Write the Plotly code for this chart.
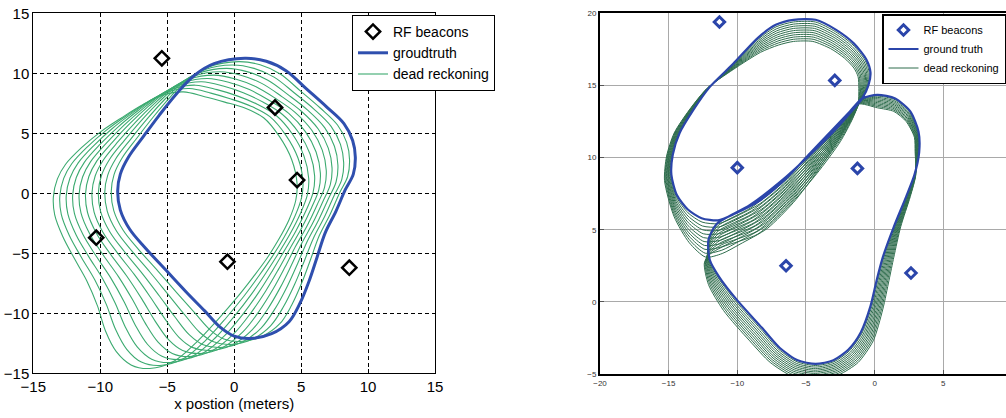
import plotly.graph_objects as go

# ---------------- LEFT PANEL DATA ----------------
left_beacon_x = [-5.4, 3.05, 4.7, -10.3, -0.5, 8.6]
left_beacon_y = [11.25, 7.15, 1.1, -3.7, -5.7, -6.2]

gt_left_x = [0.8, 2.4, 3.9, 5.4, 6.9, 8.2, 8.85, 9.05, 8.9, 8.3, 7.6, 6.8, 6.2, 5.6, 4.9, 4.1, 2.8, 1.2,
             0.0, -1.0, -2.2, -3.6, -5.1, -6.6, -7.8, -8.5, -8.7, -8.5, -7.9, -6.8, -5.6, -4.3, -3.0, -1.5, 0.8]
gt_left_y = [11.25, 11.0, 10.2, 8.7, 7.2, 5.8, 4.4, 3.0, 1.6, 0.3, -1.5, -3.3, -5.3, -7.3, -9.2, -10.7, -11.7, -12.1,
             -11.9, -11.2, -9.8, -8.2, -6.4, -4.6, -3.0, -1.4, 0.2, 1.6, 3.0, 4.7, 6.5, 8.3, 9.8, 10.8, 11.25]

# dead-reckoning laps: one row per path station, one column per lap
dr_left_x = [
    [0.34, -0.12, -0.58, -1.04, -1.5, -1.96, -2.42, -2.88, -3.34, -3.8],
    [1.94, 1.48, 1.02, 0.56, 0.1, -0.36, -0.82, -1.28, -1.74, -2.2],
    [3.44, 2.98, 2.52, 2.06, 1.6, 1.14, 0.68, 0.22, -0.24, -0.7],
    [4.94, 4.48, 4.02, 3.56, 3.1, 2.64, 2.18, 1.72, 1.26, 0.8],
    [6.43, 5.96, 5.49, 5.02, 4.55, 4.08, 3.61, 3.14, 2.67, 2.2],
    [7.72, 7.24, 6.76, 6.28, 5.8, 5.32, 4.84, 4.36, 3.88, 3.4],
    [8.4, 7.94, 7.49, 7.03, 6.58, 6.12, 5.67, 5.21, 4.76, 4.3],
    [8.62, 8.18, 7.75, 7.31, 6.88, 6.44, 6.01, 5.57, 5.14, 4.7],
    [8.47, 8.04, 7.61, 7.18, 6.75, 6.32, 5.89, 5.46, 5.03, 4.6],
    [7.88, 7.46, 7.04, 6.62, 6.2, 5.78, 5.36, 4.94, 4.52, 4.1],
    [7.17, 6.74, 6.31, 5.88, 5.45, 5.02, 4.59, 4.16, 3.73, 3.3],
    [6.36, 5.92, 5.48, 5.04, 4.6, 4.16, 3.72, 3.28, 2.84, 2.4],
    [5.72, 5.24, 4.76, 4.28, 3.8, 3.32, 2.84, 2.36, 1.88, 1.4],
    [5.06, 4.52, 3.98, 3.44, 2.9, 2.36, 1.82, 1.28, 0.74, 0.2],
    [4.29, 3.68, 3.07, 2.46, 1.85, 1.24, 0.63, 0.02, -0.59, -1.2],
    [3.41, 2.72, 2.03, 1.34, 0.65, -0.04, -0.73, -1.42, -2.11, -2.8],
    [2.07, 1.34, 0.61, -0.12, -0.85, -1.58, -2.31, -3.04, -3.77, -4.5],
    [0.45, -0.3, -1.05, -1.8, -2.55, -3.3, -4.05, -4.8, -5.55, -6.3],
    [-0.77, -1.54, -2.31, -3.08, -3.85, -4.62, -5.39, -6.16, -6.93, -7.7],
    [-1.78, -2.56, -3.34, -4.12, -4.9, -5.68, -6.46, -7.24, -8.02, -8.8],
    [-2.94, -3.68, -4.42, -5.16, -5.9, -6.64, -7.38, -8.12, -8.86, -9.6],
    [-4.26, -4.92, -5.58, -6.24, -6.9, -7.56, -8.22, -8.88, -9.54, -10.2],
    [-5.69, -6.28, -6.87, -7.46, -8.05, -8.64, -9.23, -9.82, -10.41, -11.0],
    [-7.13, -7.66, -8.19, -8.72, -9.25, -9.78, -10.31, -10.84, -11.37, -11.9],
    [-8.3, -8.8, -9.3, -9.8, -10.3, -10.8, -11.3, -11.8, -12.3, -12.8],
    [-8.99, -9.48, -9.97, -10.46, -10.95, -11.44, -11.93, -12.42, -12.91, -13.4],
    [-9.18, -9.66, -10.14, -10.62, -11.1, -11.58, -12.06, -12.54, -13.02, -13.5],
    [-8.97, -9.44, -9.91, -10.38, -10.85, -11.32, -11.79, -12.26, -12.73, -13.2],
    [-8.37, -8.84, -9.31, -9.78, -10.25, -10.72, -11.19, -11.66, -12.13, -12.6],
    [-7.26, -7.72, -8.18, -8.64, -9.1, -9.56, -10.02, -10.48, -10.94, -11.4],
    [-6.04, -6.48, -6.92, -7.36, -7.8, -8.24, -8.68, -9.12, -9.56, -10.0],
    [-4.71, -5.12, -5.53, -5.94, -6.35, -6.76, -7.17, -7.58, -7.99, -8.4],
    [-3.38, -3.76, -4.14, -4.52, -4.9, -5.28, -5.66, -6.04, -6.42, -6.8],
    [-1.88, -2.26, -2.64, -3.02, -3.4, -3.78, -4.16, -4.54, -4.92, -5.3],
]
dr_left_y = [
    [10.97, 10.69, 10.41, 10.13, 9.85, 9.57, 9.29, 9.01, 8.73, 8.45],
    [10.71, 10.41, 10.12, 9.82, 9.53, 9.23, 8.94, 8.64, 8.35, 8.05],
    [9.94, 9.68, 9.42, 9.16, 8.9, 8.64, 8.38, 8.12, 7.86, 7.6],
    [8.54, 8.38, 8.22, 8.06, 7.9, 7.74, 7.58, 7.42, 7.26, 7.1],
    [7.11, 7.02, 6.93, 6.84, 6.75, 6.66, 6.57, 6.48, 6.39, 6.3],
    [5.69, 5.58, 5.47, 5.36, 5.25, 5.14, 5.03, 4.92, 4.81, 4.7],
    [4.24, 4.08, 3.92, 3.76, 3.6, 3.44, 3.28, 3.12, 2.96, 2.8],
    [2.78, 2.56, 2.34, 2.12, 1.9, 1.68, 1.46, 1.24, 1.02, 0.8],
    [1.38, 1.16, 0.94, 0.72, 0.5, 0.28, 0.06, -0.16, -0.38, -0.6],
    [0.05, -0.2, -0.45, -0.7, -0.95, -1.2, -1.45, -1.7, -1.95, -2.2],
    [-1.74, -1.98, -2.22, -2.46, -2.7, -2.94, -3.18, -3.42, -3.66, -3.9],
    [-3.52, -3.74, -3.96, -4.18, -4.4, -4.62, -4.84, -5.06, -5.28, -5.5],
    [-5.47, -5.64, -5.81, -5.98, -6.15, -6.32, -6.49, -6.66, -6.83, -7.0],
    [-7.44, -7.58, -7.72, -7.86, -8.0, -8.14, -8.28, -8.42, -8.56, -8.7],
    [-9.33, -9.46, -9.59, -9.72, -9.85, -9.98, -10.11, -10.24, -10.37, -10.5],
    [-10.87, -11.04, -11.21, -11.38, -11.55, -11.72, -11.89, -12.06, -12.23, -12.4],
    [-11.93, -12.16, -12.39, -12.62, -12.85, -13.08, -13.31, -13.54, -13.77, -14.0],
    [-12.35, -12.6, -12.85, -13.1, -13.35, -13.6, -13.85, -14.1, -14.35, -14.6],
    [-12.14, -12.38, -12.62, -12.86, -13.1, -13.34, -13.58, -13.82, -14.06, -14.3],
    [-11.4, -11.6, -11.8, -12.0, -12.2, -12.4, -12.6, -12.8, -13.0, -13.2],
    [-9.97, -10.14, -10.31, -10.48, -10.65, -10.82, -10.99, -11.16, -11.33, -11.5],
    [-8.32, -8.44, -8.56, -8.68, -8.8, -8.92, -9.04, -9.16, -9.28, -9.4],
    [-6.49, -6.58, -6.67, -6.76, -6.85, -6.94, -7.03, -7.12, -7.21, -7.3],
    [-4.69, -4.78, -4.87, -4.96, -5.05, -5.14, -5.23, -5.32, -5.41, -5.5],
    [-3.06, -3.12, -3.18, -3.24, -3.3, -3.36, -3.42, -3.48, -3.54, -3.6],
    [-1.44, -1.48, -1.52, -1.56, -1.6, -1.64, -1.68, -1.72, -1.76, -1.8],
    [0.15, 0.1, 0.05, 0.0, -0.05, -0.1, -0.15, -0.2, -0.25, -0.3],
    [1.56, 1.52, 1.48, 1.44, 1.4, 1.36, 1.32, 1.28, 1.24, 1.2],
    [2.94, 2.88, 2.82, 2.76, 2.7, 2.64, 2.58, 2.52, 2.46, 2.4],
    [4.61, 4.52, 4.43, 4.34, 4.25, 4.16, 4.07, 3.98, 3.89, 3.8],
    [6.36, 6.22, 6.08, 5.94, 5.8, 5.66, 5.52, 5.38, 5.24, 5.1],
    [8.1, 7.9, 7.7, 7.5, 7.3, 7.1, 6.9, 6.7, 6.5, 6.3],
    [9.56, 9.32, 9.08, 8.84, 8.6, 8.36, 8.12, 7.88, 7.64, 7.4],
    [10.54, 10.28, 10.02, 9.76, 9.5, 9.24, 8.98, 8.72, 8.46, 8.2],
]

# ---------------- RIGHT PANEL DATA ----------------
right_beacon_x = [-11.3, -2.9, -10.0, -1.25, -6.45, 2.65]
right_beacon_y = [19.4, 15.35, 9.3, 9.25, 2.5, 2.0]

gt_right_x = [-0.9, -0.45, -0.3, -0.6, -1.5, -2.8, -4.3, -5.9, -7.2, -8.5, -10.3, -12.0, -13.2, -14.2, -14.7,
              -14.8, -14.4, -13.6, -12.6, -11.4, -10.2, -8.4, -6.5, -4.7, -3.0, -1.8, -0.9, 0.2, 1.5, 2.6, 3.2,
              3.25, 2.9, 2.3, 1.4, 0.6, 0.15, -0.3, -1.0, -1.9, -3.0, -4.3, -5.6, -6.9, -8.2, -10.0, -11.3,
              -12.0, -12.1, -11.5, -9.1, -6.9, -4.7, -2.8, -1.6, -0.9]
gt_right_y = [14.1, 15.0, 15.9, 16.8, 17.9, 18.85, 19.55, 19.55, 19.2, 18.3, 16.5, 14.9, 13.3, 11.7, 10.2,
              8.8, 7.4, 6.4, 5.8, 5.65, 6.1, 7.0, 8.5, 10.3, 12.0, 13.2, 14.1, 14.35, 14.1, 13.2, 11.8,
              10.4, 8.8, 7.3, 5.2, 3.1, 1.5, -0.3, -2.1, -3.3, -4.05, -4.3, -4.05, -3.2, -1.8, 0.1, 1.7,
              2.9, 4.3, 5.4, 6.7, 8.3, 10.2, 12.0, 13.3, 14.1]

dr_right_x = [
    [-0.93, -0.96, -0.99, -1.02, -1.05, -1.08, -1.11, -1.14, -1.17, -1.2],
    [-0.52, -0.59, -0.66, -0.73, -0.8, -0.87, -0.94, -1.01, -1.08, -1.15],
    [-0.39, -0.48, -0.57, -0.66, -0.75, -0.84, -0.93, -1.02, -1.11, -1.2],
    [-0.69, -0.78, -0.87, -0.96, -1.05, -1.14, -1.23, -1.32, -1.41, -1.5],
    [-1.57, -1.64, -1.71, -1.78, -1.85, -1.92, -1.99, -2.06, -2.13, -2.2],
    [-2.84, -2.88, -2.92, -2.96, -3.0, -3.04, -3.08, -3.12, -3.16, -3.2],
    [-4.32, -4.34, -4.36, -4.38, -4.4, -4.42, -4.44, -4.46, -4.48, -4.5],
    [-5.9, -5.9, -5.9, -5.9, -5.9, -5.9, -5.9, -5.9, -5.9, -5.9],
    [-7.18, -7.16, -7.14, -7.12, -7.1, -7.08, -7.06, -7.04, -7.02, -7.0],
    [-8.48, -8.46, -8.44, -8.42, -8.4, -8.38, -8.36, -8.34, -8.32, -8.3],
    [-10.3, -10.3, -10.3, -10.3, -10.3, -10.3, -10.3, -10.3, -10.3, -10.3],
    [-12.02, -12.04, -12.06, -12.08, -12.1, -12.12, -12.14, -12.16, -12.18, -12.2],
    [-13.23, -13.26, -13.29, -13.32, -13.35, -13.38, -13.41, -13.44, -13.47, -13.5],
    [-14.24, -14.28, -14.32, -14.36, -14.4, -14.44, -14.48, -14.52, -14.56, -14.6],
    [-14.75, -14.79, -14.84, -14.88, -14.93, -14.97, -15.02, -15.06, -15.11, -15.15],
    [-14.85, -14.9, -14.95, -15.0, -15.05, -15.1, -15.15, -15.2, -15.25, -15.3],
    [-14.42, -14.44, -14.46, -14.48, -14.5, -14.52, -14.54, -14.56, -14.58, -14.6],
    [-13.59, -13.58, -13.57, -13.56, -13.55, -13.54, -13.53, -13.52, -13.51, -13.5],
    [-12.57, -12.54, -12.51, -12.48, -12.45, -12.42, -12.39, -12.36, -12.33, -12.3],
    [-11.37, -11.34, -11.31, -11.28, -11.25, -11.22, -11.19, -11.16, -11.13, -11.1],
    [-10.16, -10.12, -10.08, -10.04, -10.0, -9.96, -9.92, -9.88, -9.84, -9.8],
    [-8.34, -8.28, -8.22, -8.16, -8.1, -8.04, -7.98, -7.92, -7.86, -7.8],
    [-6.44, -6.38, -6.32, -6.26, -6.2, -6.14, -6.08, -6.02, -5.96, -5.9],
    [-4.65, -4.6, -4.55, -4.5, -4.45, -4.4, -4.35, -4.3, -4.25, -4.2],
    [-2.97, -2.94, -2.91, -2.88, -2.85, -2.82, -2.79, -2.76, -2.73, -2.7],
    [-1.8, -1.8, -1.8, -1.8, -1.8, -1.8, -1.8, -1.8, -1.8, -1.8],
    [-0.93, -0.96, -0.99, -1.02, -1.05, -1.08, -1.11, -1.14, -1.17, -1.2],
    [0.2, 0.2, 0.2, 0.2, 0.2, 0.2, 0.2, 0.2, 0.2, 0.2],
    [1.49, 1.48, 1.47, 1.46, 1.45, 1.44, 1.43, 1.42, 1.41, 1.4],
    [2.57, 2.54, 2.51, 2.48, 2.45, 2.42, 2.39, 2.36, 2.33, 2.3],
    [3.17, 3.14, 3.11, 3.08, 3.05, 3.02, 2.99, 2.96, 2.93, 2.9],
    [3.22, 3.19, 3.16, 3.13, 3.1, 3.07, 3.04, 3.01, 2.98, 2.95],
    [2.91, 2.92, 2.93, 2.94, 2.95, 2.96, 2.97, 2.98, 2.99, 3.0],
    [2.33, 2.36, 2.39, 2.42, 2.45, 2.48, 2.51, 2.54, 2.57, 2.6],
    [1.45, 1.5, 1.55, 1.6, 1.65, 1.7, 1.75, 1.8, 1.85, 1.9],
    [0.68, 0.76, 0.84, 0.92, 1.0, 1.08, 1.16, 1.24, 1.32, 1.4],
    [0.24, 0.33, 0.42, 0.51, 0.6, 0.69, 0.78, 0.87, 0.96, 1.05],
    [-0.21, -0.12, -0.03, 0.06, 0.15, 0.24, 0.33, 0.42, 0.51, 0.6],
    [-0.91, -0.82, -0.73, -0.64, -0.55, -0.46, -0.37, -0.28, -0.19, -0.1],
    [-1.83, -1.76, -1.69, -1.62, -1.55, -1.48, -1.41, -1.34, -1.27, -1.2],
    [-2.96, -2.92, -2.88, -2.84, -2.8, -2.76, -2.72, -2.68, -2.64, -2.6],
    [-4.3, -4.3, -4.3, -4.3, -4.3, -4.3, -4.3, -4.3, -4.3, -4.3],
    [-5.64, -5.68, -5.72, -5.76, -5.8, -5.84, -5.88, -5.92, -5.96, -6.0],
    [-6.97, -7.04, -7.11, -7.18, -7.25, -7.32, -7.39, -7.46, -7.53, -7.6],
    [-8.29, -8.38, -8.47, -8.56, -8.65, -8.74, -8.83, -8.92, -9.01, -9.1],
    [-10.1, -10.2, -10.3, -10.4, -10.5, -10.6, -10.7, -10.8, -10.9, -11.0],
    [-11.38, -11.46, -11.54, -11.62, -11.7, -11.78, -11.86, -11.94, -12.02, -12.1],
    [-12.04, -12.08, -12.12, -12.16, -12.2, -12.24, -12.28, -12.32, -12.36, -12.4],
    [-12.09, -12.08, -12.07, -12.06, -12.05, -12.04, -12.03, -12.02, -12.01, -12.0],
    [-11.46, -11.42, -11.38, -11.34, -11.3, -11.26, -11.22, -11.18, -11.14, -11.1],
    [-9.04, -8.98, -8.92, -8.86, -8.8, -8.74, -8.68, -8.62, -8.56, -8.5],
    [-6.84, -6.78, -6.72, -6.66, -6.6, -6.54, -6.48, -6.42, -6.36, -6.3],
    [-4.65, -4.6, -4.55, -4.5, -4.45, -4.4, -4.35, -4.3, -4.25, -4.2],
    [-2.77, -2.74, -2.71, -2.68, -2.65, -2.62, -2.59, -2.56, -2.53, -2.5],
    [-1.6, -1.6, -1.6, -1.6, -1.6, -1.6, -1.6, -1.6, -1.6, -1.6],
    [-0.93, -0.96, -0.99, -1.02, -1.05, -1.08, -1.11, -1.14, -1.17, -1.2],
]
dr_right_y = [
    [14.06, 14.02, 13.98, 13.94, 13.9, 13.86, 13.82, 13.78, 13.74, 13.7],
    [14.98, 14.96, 14.94, 14.92, 14.9, 14.88, 14.86, 14.84, 14.82, 14.8],
    [15.87, 15.84, 15.81, 15.78, 15.75, 15.72, 15.69, 15.66, 15.63, 15.6],
    [16.74, 16.68, 16.62, 16.56, 16.5, 16.44, 16.38, 16.32, 16.26, 16.2],
    [17.8, 17.7, 17.6, 17.5, 17.4, 17.3, 17.2, 17.1, 17.0, 16.9],
    [18.72, 18.59, 18.46, 18.33, 18.2, 18.07, 17.94, 17.81, 17.68, 17.55],
    [19.4, 19.25, 19.1, 18.95, 18.8, 18.65, 18.5, 18.35, 18.2, 18.05],
    [19.4, 19.25, 19.1, 18.95, 18.8, 18.65, 18.5, 18.35, 18.2, 18.05],
    [19.06, 18.92, 18.78, 18.64, 18.5, 18.36, 18.22, 18.08, 17.94, 17.8],
    [18.2, 18.1, 18.0, 17.9, 17.8, 17.7, 17.6, 17.5, 17.4, 17.3],
    [16.46, 16.42, 16.38, 16.34, 16.3, 16.26, 16.22, 16.18, 16.14, 16.1],
    [14.89, 14.88, 14.87, 14.86, 14.85, 14.84, 14.83, 14.82, 14.81, 14.8],
    [13.3, 13.3, 13.3, 13.3, 13.3, 13.3, 13.3, 13.3, 13.3, 13.3],
    [11.7, 11.7, 11.7, 11.7, 11.7, 11.7, 11.7, 11.7, 11.7, 11.7],
    [10.19, 10.18, 10.17, 10.16, 10.15, 10.14, 10.13, 10.12, 10.11, 10.1],
    [8.76, 8.72, 8.68, 8.64, 8.6, 8.56, 8.52, 8.48, 8.44, 8.4],
    [7.25, 7.1, 6.95, 6.8, 6.65, 6.5, 6.35, 6.2, 6.05, 5.9],
    [6.17, 5.94, 5.71, 5.48, 5.25, 5.02, 4.79, 4.56, 4.33, 4.1],
    [5.53, 5.26, 4.99, 4.72, 4.45, 4.18, 3.91, 3.64, 3.37, 3.1],
    [5.42, 5.19, 4.96, 4.73, 4.5, 4.27, 4.04, 3.81, 3.58, 3.35],
    [5.89, 5.68, 5.47, 5.26, 5.05, 4.84, 4.63, 4.42, 4.21, 4.0],
    [6.81, 6.62, 6.43, 6.24, 6.05, 5.86, 5.67, 5.48, 5.29, 5.1],
    [8.34, 8.18, 8.02, 7.86, 7.7, 7.54, 7.38, 7.22, 7.06, 6.9],
    [10.17, 10.04, 9.91, 9.78, 9.65, 9.52, 9.39, 9.26, 9.13, 9.0],
    [11.91, 11.82, 11.73, 11.64, 11.55, 11.46, 11.37, 11.28, 11.19, 11.1],
    [13.14, 13.08, 13.02, 12.96, 12.9, 12.84, 12.78, 12.72, 12.66, 12.6],
    [14.06, 14.02, 13.98, 13.94, 13.9, 13.86, 13.82, 13.78, 13.74, 13.7],
    [14.26, 14.17, 14.08, 13.99, 13.9, 13.81, 13.72, 13.63, 13.54, 13.45],
    [14.01, 13.92, 13.83, 13.74, 13.65, 13.56, 13.47, 13.38, 13.29, 13.2],
    [13.13, 13.06, 12.99, 12.92, 12.85, 12.78, 12.71, 12.64, 12.57, 12.5],
    [11.76, 11.72, 11.68, 11.64, 11.6, 11.56, 11.52, 11.48, 11.44, 11.4],
    [10.4, 10.4, 10.4, 10.4, 10.4, 10.4, 10.4, 10.4, 10.4, 10.4],
    [8.8, 8.8, 8.8, 8.8, 8.8, 8.8, 8.8, 8.8, 8.8, 8.8],
    [7.3, 7.3, 7.3, 7.3, 7.3, 7.3, 7.3, 7.3, 7.3, 7.3],
    [5.2, 5.2, 5.2, 5.2, 5.2, 5.2, 5.2, 5.2, 5.2, 5.2],
    [3.1, 3.1, 3.1, 3.1, 3.1, 3.1, 3.1, 3.1, 3.1, 3.1],
    [1.5, 1.5, 1.5, 1.5, 1.5, 1.5, 1.5, 1.5, 1.5, 1.5],
    [-0.32, -0.34, -0.36, -0.38, -0.4, -0.42, -0.44, -0.46, -0.48, -0.5],
    [-2.16, -2.22, -2.28, -2.34, -2.4, -2.46, -2.52, -2.58, -2.64, -2.7],
    [-3.39, -3.48, -3.57, -3.66, -3.75, -3.84, -3.93, -4.02, -4.11, -4.2],
    [-4.15, -4.25, -4.35, -4.45, -4.55, -4.65, -4.75, -4.85, -4.95, -5.05],
    [-4.41, -4.52, -4.63, -4.74, -4.85, -4.96, -5.07, -5.18, -5.29, -5.4],
    [-4.16, -4.27, -4.38, -4.49, -4.6, -4.71, -4.82, -4.93, -5.04, -5.15],
    [-3.3, -3.4, -3.5, -3.6, -3.7, -3.8, -3.9, -4.0, -4.1, -4.2],
    [-1.89, -1.98, -2.07, -2.16, -2.25, -2.34, -2.43, -2.52, -2.61, -2.7],
    [0.03, -0.04, -0.11, -0.18, -0.25, -0.32, -0.39, -0.46, -0.53, -0.6],
    [1.65, 1.6, 1.55, 1.5, 1.45, 1.4, 1.35, 1.3, 1.25, 1.2],
    [2.88, 2.86, 2.84, 2.82, 2.8, 2.78, 2.76, 2.74, 2.72, 2.7],
    [4.2, 4.1, 4.0, 3.9, 3.8, 3.7, 3.6, 3.5, 3.4, 3.3],
    [5.24, 5.08, 4.92, 4.76, 4.6, 4.44, 4.28, 4.12, 3.96, 3.8],
    [6.5, 6.3, 6.1, 5.9, 5.7, 5.5, 5.3, 5.1, 4.9, 4.7],
    [8.13, 7.96, 7.79, 7.62, 7.45, 7.28, 7.11, 6.94, 6.77, 6.6],
    [10.07, 9.94, 9.81, 9.68, 9.55, 9.42, 9.29, 9.16, 9.03, 8.9],
    [11.91, 11.82, 11.73, 11.64, 11.55, 11.46, 11.37, 11.28, 11.19, 11.1],
    [13.24, 13.18, 13.12, 13.06, 13.0, 12.94, 12.88, 12.82, 12.76, 12.7],
    [14.06, 14.02, 13.98, 13.94, 13.9, 13.86, 13.82, 13.78, 13.74, 13.7],
]

tick_vals_left = [-15, -10, -5, 0, 5, 10, 15]
tick_vals_right_x = [-20, -15, -10, -5, 0, 5, 10]
tick_vals_right_y = [-5, 0, 5, 10, 15, 20]

# ---------------- STYLE ----------------
FONT = "Liberation Sans, Arial, sans-serif"
GREEN_L = "rgb(60,170,112)"
BLUE_L = "#2f4fae"
GREEN_R = "#2f6d4d"
BLUE_R = "#2b45aa"

fig = go.Figure()

n_left_laps = len(dr_left_x[0])
for k in range(n_left_laps):
    xs = [row[k] for row in dr_left_x] + [dr_left_x[0][k]]
    ys = [row[k] for row in dr_left_y] + [dr_left_y[0][k]]
    fig.add_trace(go.Scatter(
        x=xs, y=ys, mode="lines", name="dead reckoning", legendgroup="drl",
        showlegend=(k == 0), legend="legend", legendrank=3,
        line=dict(color=GREEN_L, width=1.1, shape="spline", smoothing=1.0),
        xaxis="x", yaxis="y", hoverinfo="skip"))

fig.add_trace(go.Scatter(
    x=gt_left_x, y=gt_left_y, mode="lines", name="groudtruth", legend="legend", legendrank=2,
    line=dict(color=BLUE_L, width=3, shape="spline", smoothing=1.0), xaxis="x", yaxis="y"))

fig.add_trace(go.Scatter(
    x=left_beacon_x, y=left_beacon_y, mode="markers", name="RF beacons", legend="legend", legendrank=1,
    marker=dict(symbol="diamond-open", size=11, color="black", line=dict(width=2.5, color="black")),
    xaxis="x", yaxis="y"))

n_right_laps = len(dr_right_x[0])
for k in range(n_right_laps):
    xs = [row[k] for row in dr_right_x]
    ys = [row[k] for row in dr_right_y]
    fig.add_trace(go.Scatter(
        x=xs, y=ys, mode="lines", name="dead reckoning", legendgroup="drr",
        showlegend=(k == 0), legend="legend2", legendrank=3,
        line=dict(color=GREEN_R, width=1, shape="spline", smoothing=0.7),
        xaxis="x2", yaxis="y2", hoverinfo="skip"))

fig.add_trace(go.Scatter(
    x=gt_right_x, y=gt_right_y, mode="lines", name="ground truth", legend="legend2", legendrank=2,
    line=dict(color=BLUE_R, width=2.2, shape="spline", smoothing=0.7), xaxis="x2", yaxis="y2"))

fig.add_trace(go.Scatter(
    x=right_beacon_x, y=right_beacon_y, mode="markers", name="RF beacons", legend="legend2", legendrank=1,
    marker=dict(symbol="diamond-open", size=8, color=BLUE_R, line=dict(width=3, color=BLUE_R)),
    xaxis="x2", yaxis="y2"))

W, H = 1006, 418
left_axis_common = dict(
    showgrid=True, gridcolor="black", gridwidth=1, griddash="4px,3px",
    showline=True, linecolor="black", linewidth=1, mirror=True,
    ticks="inside", ticklen=4, tickcolor="black", zeroline=False, automargin=False,
    tickfont=dict(family=FONT, size=15, color="black"),
)
right_axis_common = dict(
    showgrid=True, gridcolor="#a9a9a9", gridwidth=1,
    showline=True, linecolor="black", linewidth=2, mirror=True,
    ticks="inside", ticklen=4, tickcolor="#555", zeroline=False, automargin=False,
    tickfont=dict(family=FONT, size=8, color="#333"),
)

fig.update_layout(
    width=W, height=H,
    margin=dict(l=0, r=0, t=0, b=0, autoexpand=False),
    paper_bgcolor="white", plot_bgcolor="white",
    font=dict(family=FONT, color="black"),
    xaxis=dict(domain=[33.3 / W, 435 / W], range=[-15, 15], tickvals=tick_vals_left,
               anchor="y", title=dict(text="x postion (meters)", font=dict(family=FONT, size=15), standoff=3),
               **left_axis_common),
    yaxis=dict(domain=[(H - 373.3) / H, (H - 13.3) / H], range=[-15, 15], tickvals=tick_vals_left,
               anchor="x", **left_axis_common),
    xaxis2=dict(domain=[600 / W, 1.0], range=[-20, -20 + 406 / 13.73], tickvals=tick_vals_right_x,
                anchor="y2", **right_axis_common),
    yaxis2=dict(domain=[(H - 374) / H, (H - 13.3) / H], range=[-5, 20], tickvals=tick_vals_right_y,
                anchor="x2", **right_axis_common),
    legend=dict(x=352 / W, y=1 - 15 / H, xanchor="left", yanchor="top",
                bgcolor="white", bordercolor="black", borderwidth=1,
                font=dict(family=FONT, size=14, color="black"), tracegroupgap=0),
    legend2=dict(x=1.0, y=1 - 14 / H, xanchor="right", yanchor="top",
                 bgcolor="white", bordercolor="black", borderwidth=1.5,
                 font=dict(family=FONT, size=11, color="black"), tracegroupgap=0),
    showlegend=True,
)

fig.write_html("out.html", config={"displayModeBar": False},
               post_script="document.body.style.margin='0px';")
